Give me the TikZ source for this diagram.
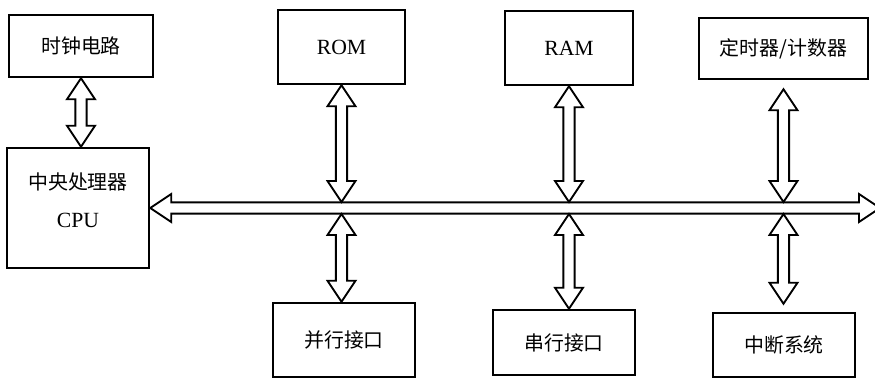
\documentclass[tikz,border=0pt]{standalone}
\usepackage{fontspec}
\setmainfont{Liberation Serif}
\newfontfamily\cjk{Noto Sans CJK SC}
\usetikzlibrary{calc}

% hollow arrow geometry
\def\ahw{4.2mm}  % half width of the head
\def\asw{1.7mm}  % half width of the shaft
\def\ahl{6.3mm}  % length of the head

% vertical hollow double arrow from #1 (top) to #2 (bottom)
\newcommand\hollowv[2]{%
  \draw[hollow] let \p1=(#1), \p2=(#2) in
    (\x1,\y1) -- (\x1+\ahw,\y1-\ahl) -- (\x1+\asw,\y1-\ahl)
    -- (\x1+\asw,\y2+\ahl) -- (\x1+\ahw,\y2+\ahl) -- (\x1,\y2)
    -- (\x1-\ahw,\y2+\ahl) -- (\x1-\asw,\y2+\ahl)
    -- (\x1-\asw,\y1-\ahl) -- (\x1-\ahw,\y1-\ahl) -- cycle;}

% horizontal hollow double arrow from #1 (left) to #2 (right)
\newcommand\hollowh[2]{%
  \draw[hollow] let \p1=(#1), \p2=(#2) in
    (\x1,\y1) -- (\x1+\ahl,\y1+\ahw) -- (\x1+\ahl,\y1+\asw)
    -- (\x2-\ahl,\y1+\asw) -- (\x2-\ahl,\y1+\ahw) -- (\x2,\y1)
    -- (\x2-\ahl,\y1-\ahw) -- (\x2-\ahl,\y1-\asw)
    -- (\x1+\ahl,\y1-\asw) -- (\x1+\ahl,\y1-\ahw) -- cycle;}

\tikzset{
  blk/.style={draw, line width=2.1pt, inner sep=0pt,
              font=\cjk\fontsize{17}{20}\selectfont},
  latin/.style={font=\fontsize{18.5}{22}\selectfont},
  hollow/.style={draw, fill=white, line width=1.6pt, line join=miter},
}

\begin{document}
\begin{tikzpicture}[x=0.3mm, y=-0.3mm]
  \useasboundingbox (0,0) rectangle (875,378);

  % units
  \node[blk, minimum width=144*0.3mm, minimum height=62*0.3mm] (clk) at (81,46) {时钟电路};
  \node[blk, minimum width=142*0.3mm, minimum height=120*0.3mm] (cpu) at (78,208) {};
  \node[font=\cjk\fontsize{17}{20}\selectfont, inner sep=0pt] (cpuname) at ($(cpu.center)+(0,-26)$) {中央处理器};
  \node[latin, inner sep=0pt] (cpuabbr) at ($(cpu.center)+(0,12)$) {CPU};

  \node[blk, latin, minimum width=127*0.3mm, minimum height=74*0.3mm] (rom) at (341.5,47) {ROM};
  \node[blk, latin, minimum width=128*0.3mm, minimum height=74*0.3mm] (ram) at (569,48) {RAM};
  \node[blk, minimum width=169*0.3mm, minimum height=61*0.3mm] (tmr) at (783.5,48.5) {定时器/计数器};

  \node[blk, minimum width=142*0.3mm, minimum height=74*0.3mm] (par) at (344,340) {并行接口};
  \node[blk, minimum width=142*0.3mm, minimum height=65*0.3mm] (ser) at (564,342.5) {串行接口};
  \node[blk, minimum width=142*0.3mm, minimum height=64*0.3mm] (int) at (784,345) {中断系统};

  % system bus
  \coordinate (busR) at (880,208);
  \coordinate (bt) at (0,202);
  \coordinate (bb) at (0,214);
  \hollowh{cpu.east}{busR}

  % links to the bus
  \coordinate (tmrgap) at ($(tmr.south)+(0,9)$);
  \coordinate (intgap) at ($(int.north)+(0,-8)$);
  \hollowv{clk.south}{cpu.north}
  \hollowv{rom.south}{rom.south |- bt}
  \hollowv{ram.south}{ram.south |- bt}
  \hollowv{tmrgap}{tmr.south |- bt}
  \hollowv{rom.south |- bb}{rom.south |- par.north}
  \hollowv{ram.south |- bb}{ram.south |- ser.north}
  \hollowv{tmr.south |- bb}{intgap}
\end{tikzpicture}
\end{document}
